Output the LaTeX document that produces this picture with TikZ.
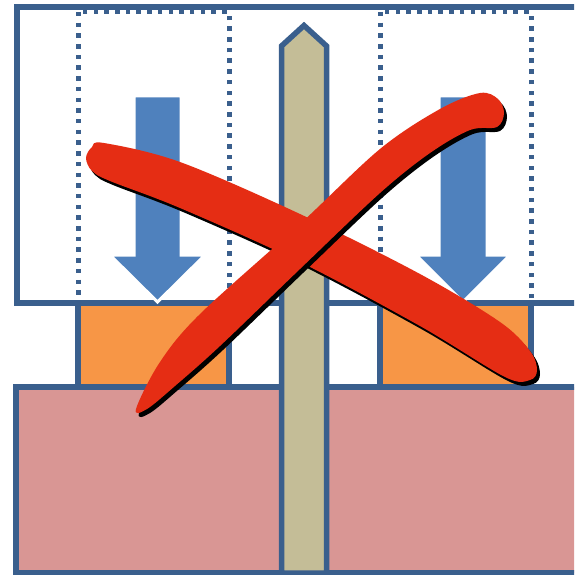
\documentclass[tikz,border=0pt]{standalone}
\definecolor{bordc}{HTML}{3A5F8D}
\definecolor{arrowc}{HTML}{4F81BD}
\definecolor{orangec}{HTML}{F79646}
\definecolor{pinkc}{HTML}{D99694}
\definecolor{tanc}{HTML}{C4BD97}
\definecolor{redc}{HTML}{E52D14}
\tikzset{
  box/.style={draw=bordc, line width=5.5pt},
  dotbox/.style={draw=bordc, line width=5pt, dash pattern=on 4.5pt off 6.2pt},
  arr/.style={fill=arrowc, draw=white, line width=3pt, line join=miter},
  redstroke/.style={fill=redc},
  shadowstroke/.style={fill=black, shift={(3,4)}},
}
\begin{document}
\begin{tikzpicture}[x=1pt,y=-1pt]
\clip (0,0) rectangle (574,575);
\fill[white] (0,0) rectangle (574,575);
% top white frame
\draw[box] (17,7) rectangle (620,303);
% dotted frames
\draw[dotbox] (78,12) rectangle (229,390);
\draw[dotbox] (380,12) rectangle (531,390);
% orange boxes
\filldraw[box, fill=orangec] (78,303) rectangle (229,387);
\filldraw[box, fill=orangec] (380,303) rectangle (531,387);
% pink base
\filldraw[box, fill=pinkc] (16,387) rectangle (620,573);
% post
\filldraw[box, fill=tanc, line join=miter] (281.5,573) -- (281.5,46) -- (304,25.5) -- (326.5,46) -- (326.5,573) -- cycle;
% arrows
\filldraw[arr] (134,96) -- (181,96) -- (181,255) -- (205,255) -- (157.5,302) -- (110,255) -- (134,255) -- cycle;
\filldraw[arr] (439,96) -- (487,96) -- (487,255) -- (510,255) -- (463,302) -- (416,255) -- (439,255) -- cycle;
% red X
\def\strokeA{plot[smooth cycle, tension=0.55] coordinates {(86,158) (92,147) (104,143) (180,162) (300,214) (420,274) (500,322) (530,351) (537,370) (530,380) (505,377) (420,326) (300,262) (180,208) (110,181) (92,171)}}
\def\strokeB{plot[smooth cycle, tension=0.55] coordinates {(136,409) (160,362) (200,314) (300,224) (380,149) (440,109) (480,93) (498,99) (504,113) (497,127) (470,130) (430,153) (380,193) (300,269) (220,346) (175,386) (147,409)}}
\fill[shadowstroke] \strokeA;
\fill[redstroke] \strokeA;
\fill[shadowstroke] \strokeB;
\fill[redstroke] \strokeB;
\end{tikzpicture}
\end{document}
